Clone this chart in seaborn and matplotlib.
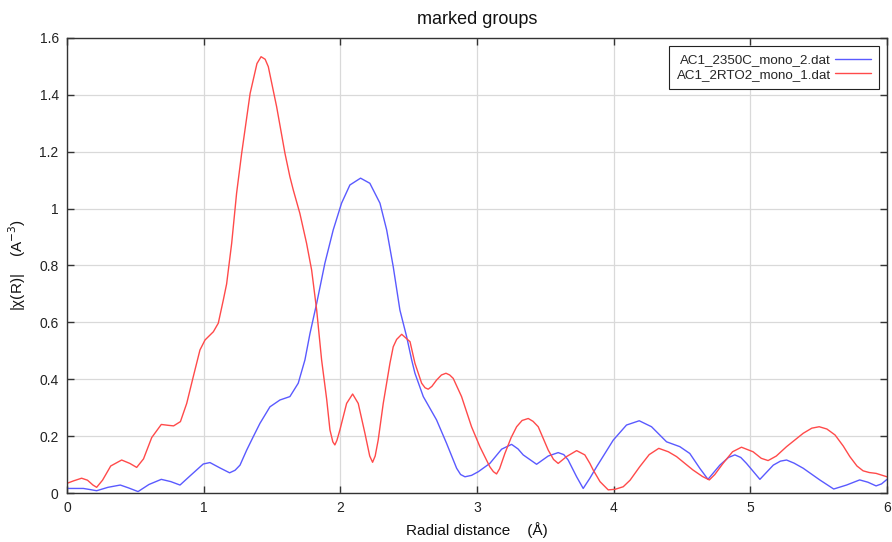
import matplotlib
matplotlib.use("Agg")
import matplotlib.pyplot as plt
import seaborn as sns
import pandas as pd

# Datos (R en Å, |chi(R)|)
blue_label = "AC1_2350C_mono_2.dat"
red_label = "AC1_2RTO2_mono_1.dat"

blue_r = [0.0, 0.12, 0.17, 0.217, 0.30, 0.39, 0.45, 0.52, 0.60, 0.69, 0.76, 0.827,
          0.90, 0.997, 1.046, 1.12, 1.19, 1.23, 1.266, 1.315, 1.363, 1.412, 1.485,
          1.558, 1.631, 1.692, 1.741, 1.778, 1.827, 1.887, 1.948, 2.009, 2.07, 2.148,
          2.216, 2.29, 2.339, 2.387, 2.436, 2.485, 2.522, 2.546, 2.607, 2.704, 2.777,
          2.851, 2.88, 2.912, 2.96, 3.01, 3.094, 3.18, 3.253, 3.30, 3.338, 3.436, 3.521,
          3.594, 3.635, 3.667, 3.729, 3.777, 3.826, 3.875, 3.997, 4.094, 4.187, 4.277,
          4.387, 4.484, 4.557, 4.63, 4.69, 4.777, 4.84, 4.887, 4.93, 4.972, 5.07, 5.168,
          5.22, 5.265, 5.32, 5.387, 5.508, 5.61, 5.704, 5.80, 5.86, 5.92, 5.96, 6.0]
blue_chi = [0.016, 0.016, 0.012, 0.008, 0.020, 0.028, 0.018, 0.005, 0.030, 0.048, 0.040,
            0.028, 0.060, 0.102, 0.107, 0.088, 0.071, 0.080, 0.098, 0.151, 0.198, 0.245,
            0.303, 0.327, 0.339, 0.386, 0.468, 0.561, 0.667, 0.808, 0.925, 1.019, 1.083,
            1.107, 1.089, 1.019, 0.925, 0.796, 0.643, 0.550, 0.468, 0.421, 0.339, 0.257,
            0.175, 0.087, 0.065, 0.057, 0.062, 0.075, 0.104, 0.154, 0.171, 0.155, 0.134,
            0.101, 0.130, 0.142, 0.135, 0.116, 0.057, 0.016, 0.052, 0.092, 0.186, 0.239,
            0.254, 0.233, 0.180, 0.163, 0.139, 0.087, 0.048, 0.098, 0.125, 0.134, 0.125,
            0.104, 0.048, 0.098, 0.112, 0.116, 0.105, 0.087, 0.046, 0.014, 0.028, 0.046,
            0.038, 0.025, 0.032, 0.048]

red_r = [0.0, 0.05, 0.107, 0.15, 0.19, 0.217, 0.26, 0.32, 0.40, 0.46, 0.51, 0.56, 0.62,
         0.69, 0.74, 0.78, 0.83, 0.876, 0.924, 0.973, 1.01, 1.071, 1.107, 1.144, 1.168,
         1.205, 1.241, 1.278, 1.34, 1.39, 1.42, 1.45, 1.473, 1.534, 1.595, 1.631, 1.656,
         1.704, 1.753, 1.79, 1.827, 1.863, 1.90, 1.924, 1.945, 1.96, 1.975, 1.997, 2.046,
         2.09, 2.131, 2.18, 2.215, 2.236, 2.255, 2.277, 2.314, 2.363, 2.387, 2.412,
         2.449, 2.51, 2.546, 2.595, 2.62, 2.643, 2.67, 2.704, 2.74, 2.773, 2.80, 2.826,
         2.887, 2.96, 3.021, 3.094, 3.12, 3.143, 3.165, 3.204, 3.25, 3.29, 3.33, 3.375,
         3.41, 3.448, 3.521, 3.56, 3.594, 3.655, 3.729, 3.789, 3.826, 3.85, 3.90, 3.96,
         4.01, 4.07, 4.12, 4.19, 4.26, 4.33, 4.40, 4.46, 4.58, 4.65, 4.70, 4.74, 4.80,
         4.87, 4.935, 5.02, 5.08, 5.13, 5.19, 5.265, 5.387, 5.45, 5.504, 5.56, 5.62,
         5.68, 5.728, 5.78, 5.825, 5.87, 5.92, 5.96, 6.0]
red_chi = [0.034, 0.043, 0.052, 0.045, 0.028, 0.020, 0.045, 0.095, 0.116, 0.104, 0.090,
           0.120, 0.195, 0.241, 0.238, 0.236, 0.251, 0.315, 0.409, 0.503, 0.538, 0.567,
           0.597, 0.679, 0.735, 0.878, 1.054, 1.194, 1.405, 1.510, 1.534, 1.525, 1.499,
           1.358, 1.194, 1.112, 1.065, 0.983, 0.878, 0.784, 0.643, 0.468, 0.330, 0.222,
           0.180, 0.169, 0.185, 0.222, 0.315, 0.348, 0.315, 0.210, 0.130, 0.108, 0.130,
           0.186, 0.315, 0.456, 0.514, 0.540, 0.558, 0.532, 0.456, 0.386, 0.370, 0.365,
           0.375, 0.397, 0.415, 0.421, 0.415, 0.403, 0.339, 0.233, 0.163, 0.092, 0.075,
           0.067, 0.085, 0.139, 0.195, 0.233, 0.255, 0.262, 0.252, 0.233, 0.151, 0.118,
           0.104, 0.128, 0.149, 0.134, 0.104, 0.081, 0.040, 0.011, 0.013, 0.022, 0.045,
           0.092, 0.135, 0.157, 0.145, 0.128, 0.081, 0.058, 0.046, 0.065, 0.104, 0.145,
           0.161, 0.145, 0.122, 0.114, 0.130, 0.163, 0.210, 0.228, 0.233, 0.225, 0.204,
           0.165, 0.128, 0.095, 0.078, 0.072, 0.069, 0.063, 0.057]

x_ticks = [0, 1, 2, 3, 4, 5, 6]
y_ticks = [0, 0.2, 0.4, 0.6, 0.8, 1.0, 1.2, 1.4, 1.6]
y_tick_labels = ["0", "0.2", "0.4", "0.6", "0.8", "1", "1.2", "1.4", "1.6"]

sns.set_theme(style="whitegrid")
plt.rcParams["font.family"] = ["Liberation Sans", "DejaVu Sans"]

df = pd.concat([
    pd.DataFrame({"R": blue_r, "chi": blue_chi, "file": blue_label}),
    pd.DataFrame({"R": red_r, "chi": red_chi, "file": red_label}),
])

fig = plt.figure(figsize=(8.92, 5.42), dpi=100)
ax = fig.add_axes([0.0751, 0.0904, 0.9193, 0.8396])

sns.lineplot(data=df, x="R", y="chi", hue="file", sort=False, estimator=None,
             palette={blue_label: "#5a5aff", red_label: "#ff4a4a"},
             linewidth=1.0, ax=ax)

ax.set_xlim(0, 6)
ax.set_ylim(0, 1.6)
ax.set_xticks(x_ticks)
ax.set_xticklabels([str(t) for t in x_ticks])
ax.set_yticks(y_ticks)
ax.set_yticklabels(y_tick_labels)
ax.grid(True, color="#d9d9d9", linewidth=0.9)
for s in ax.spines.values():
    s.set_color("#333333")
    s.set_linewidth(1.0)
ax.tick_params(axis="both", direction="in", length=5, width=1, color="#333333",
               labelsize=10, labelcolor="#222222", top=True, right=True,
               bottom=True, left=True, pad=6)

ax.set_title("marked groups", fontsize=13, color="#111111", pad=10)
ax.set_xlabel("Radial distance    (Å)", fontsize=11, color="#111111", labelpad=5)
ax.set_ylabel("|χ(R)|    (A$^{-3}$)", fontsize=11, color="#111111", labelpad=8)

leg = ax.legend(loc="upper right", markerfirst=False, fontsize=9.6, frameon=True,
                fancybox=False, framealpha=1, edgecolor="#222222",
                borderaxespad=0.6, handlelength=2.7, handletextpad=0.3,
                labelspacing=0.15, borderpad=0.6, title=None)
leg.get_frame().set_linewidth(0.8)

fig.savefig("out.png", dpi=100)
